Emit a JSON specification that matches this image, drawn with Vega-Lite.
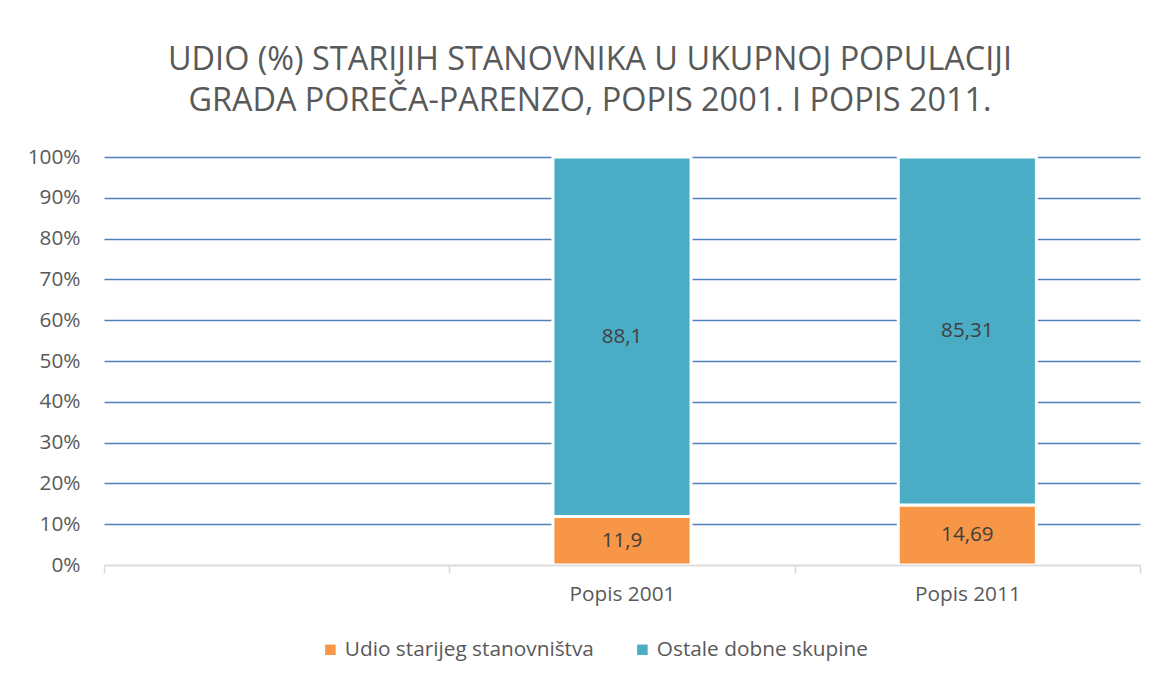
{
  "$schema": "https://vega.github.io/schema/vega-lite/v6.json",
  "autosize": "none",
  "width": 1036,
  "height": 408,
  "padding": {"left": 104, "top": 157, "right": 16, "bottom": 113},
  "config": {
    "view": {"stroke": null},
    "font": "Open Sans",
    "locale": {"number": {"decimal": ",", "thousands": ".", "grouping": [3], "currency": ["", " €"]}}
  },
  "title": {
    "text": ["UDIO (%) STARIJIH STANOVNIKA U UKUPNOJ POPULACIJI", "GRADA POREČA-PARENZO, POPIS 2001. I POPIS 2011."],
    "fontSize": 32.4,
    "fontWeight": "normal",
    "color": "#595959",
    "lineHeight": 41,
    "anchor": "middle",
    "frame": "group",
    "dx": -32,
    "offset": 29
  },
  "data": {
    "values": [
      {"popis": "Popis 2001", "serija": "Udio starijeg stanovništva", "value": 11.9},
      {"popis": "Popis 2001", "serija": "Ostale dobne skupine", "value": 88.1},
      {"popis": "Popis 2011", "serija": "Udio starijeg stanovništva", "value": 14.69},
      {"popis": "Popis 2011", "serija": "Ostale dobne skupine", "value": 85.31}
    ]
  },
  "transform": [
    {"stack": "value", "groupby": ["popis"], "sort": [{"field": "serija", "order": "descending"}], "offset": "normalize", "as": ["y0", "y1"]},
    {"calculate": "(datum.y0 + datum.y1) / 2", "as": "ymid"}
  ],
  "encoding": {
    "x": {
      "field": "popis",
      "type": "nominal",
      "title": null,
      "scale": {"domain": [" ", "Popis 2001", "Popis 2011"], "paddingInner": 0, "paddingOuter": 0},
      "axis": {
        "labelAngle": 0,
        "labelFontSize": 20.8,
        "labelColor": "#595959",
        "labelPadding": 11,
        "domainColor": "#D9D9D9",
        "domainWidth": 1.5,
        "tickColor": "#D9D9D9",
        "tickWidth": 1.5,
        "tickSize": 8,
        "tickBand": "extent",
        "zindex": 1
      }
    }
  },
  "layer": [
    {
      "mark": {"type": "bar", "stroke": "white", "strokeWidth": 3, "width": {"band": 0.4}},
      "encoding": {
        "y": {
          "field": "y0",
          "type": "quantitative",
          "title": null,
          "scale": {"domain": [0, 1], "nice": false},
          "axis": {
            "format": ".0%",
            "values": [0, 0.1, 0.2, 0.3, 0.4, 0.5, 0.6, 0.7, 0.8, 0.9, 1],
            "labelOverlap": false,
            "labelFontSize": 20.8,
            "labelColor": "#595959",
            "labelPadding": 24,
            "domain": false,
            "ticks": false,
            "grid": true,
            "gridColor": {"condition": {"test": "datum.value === 0", "value": "#D9D9D9"}, "value": "#4F81BD"},
            "gridWidth": 1.5
          }
        },
        "y2": {"field": "y1"},
        "color": {
          "field": "serija",
          "type": "nominal",
          "scale": {"domain": ["Udio starijeg stanovništva", "Ostale dobne skupine"], "range": ["#F79646", "#4BACC6"]},
          "legend": {
            "title": null,
            "orient": "none",
            "legendX": 216,
            "legendY": 482,
            "direction": "horizontal",
            "symbolType": "square",
            "symbolSize": 110,
            "symbolStrokeWidth": 0,
            "labelFontSize": 20.8,
            "labelColor": "#595959",
            "labelLimit": 400,
            "columnPadding": 38
          }
        }
      }
    },
    {
      "mark": {"type": "text", "fontSize": 20.6, "color": "#404040"},
      "encoding": {
        "y": {"field": "ymid", "type": "quantitative"},
        "text": {"field": "value", "type": "quantitative", "format": ".2~f"}
      }
    }
  ]
}
